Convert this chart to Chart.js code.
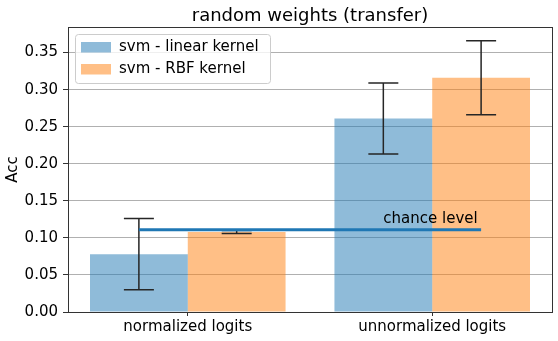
<!DOCTYPE html>
<html>
<head>
<meta charset="utf-8">
<script src="https://cdn.jsdelivr.net/npm/chart.js@4.4.1/dist/chart.umd.min.js"></script>
<style>
    body { margin: 0; background: #fff; }
    #wrap { width: 558px; height: 341px; }
</style>
</head>
<body>
<div id="wrap"><canvas id="acc_chart" width="558" height="341"></canvas></div>
<script>
// values

const categories = ['normalized logits', 'unnormalized logits'];
const linearAcc = [0.078, 0.261];
const linearErr = [0.048, 0.048];
const rbfAcc = [0.108, 0.316];
const rbfErr = [0.002, 0.050];
const chanceLevel = 0.111;
const chanceSpan = [-0.2, 1.2];
const chanceLabelPos = [0.8, 0.12];
const yTicks = [0, 0.05, 0.10, 0.15, 0.20, 0.25, 0.30, 0.35];
const titleText = 'random weights (transfer)';

Chart.defaults.font.family = 'DejaVu Sans';
Chart.defaults.font.size = 15;
Chart.defaults.color = '#000';

// error bars drawn right after each bar dataset, so the chance line stays on top
const errorBars = {
    id: 'errorBars',
    afterDatasetDraw(chart, args) {
        const ds = chart.data.datasets[args.index];
        if (!ds.errors) return;
        const y = chart.scales.y;
        const ctx = chart.ctx;
        ctx.save();
        ctx.strokeStyle = '#262626';
        ctx.lineWidth = 1.5;
        args.meta.data.forEach((bar, i) => {
            const v = ds.data[i].y;
            const e = ds.errors[i];
            const top = y.getPixelForValue(v + e);
            const bot = y.getPixelForValue(v - e);
            ctx.beginPath();
            ctx.moveTo(bar.x, top);
            ctx.lineTo(bar.x, bot);
            ctx.moveTo(bar.x - 15, top);
            ctx.lineTo(bar.x + 15, top);
            ctx.moveTo(bar.x - 15, bot);
            ctx.lineTo(bar.x + 15, bot);
            ctx.stroke();
        });
        ctx.restore();
    }
};

// title over the plot, frame, chance label and the boxed legend inside the plot
const decorations = {
    id: 'decorations',
    afterDraw(chart) {
        const ctx = chart.ctx;
        const a = chart.chartArea;
        const x = chart.scales.x;
        const y = chart.scales.y;
        ctx.save();

        ctx.fillStyle = '#000';
        ctx.font = '18px "DejaVu Sans"';
        ctx.textAlign = 'center';
        ctx.textBaseline = 'alphabetic';
        ctx.fillText(titleText, (a.left + a.right) / 2, a.top - 6);

        ctx.font = '15px "DejaVu Sans"';
        ctx.textAlign = 'left';
        ctx.fillText('chance level', x.getPixelForValue(chanceLabelPos[0]), y.getPixelForValue(chanceLabelPos[1]));

        ctx.strokeStyle = '#333';
        ctx.lineWidth = 1;
        ctx.strokeRect(Math.round(a.left) + 0.5, Math.round(a.top) + 0.5,
            Math.round(a.right - a.left), Math.round(a.bottom - a.top));

        const lx = a.left + 7, ly = a.top + 7, lw = 195, lh = 49;
        ctx.beginPath();
        ctx.roundRect(lx + 0.5, ly + 0.5, lw, lh, 3);
        ctx.fillStyle = 'rgba(255,255,255,0.8)';
        ctx.fill();
        ctx.strokeStyle = '#cccccc';
        ctx.stroke();

        const bars = chart.data.datasets.filter(d => d.errors);
        bars.forEach((d, i) => {
            const cy = ly + 13 + i * 22;
            ctx.fillStyle = d.backgroundColor;
            ctx.fillRect(lx + 6, cy - 5, 30, 10.5);
            ctx.fillStyle = '#000';
            ctx.textBaseline = 'middle';
            ctx.fillText(d.label, lx + 44, cy);
        });
        ctx.restore();
    }
};

const data = {
    datasets: [
        {
            type: 'line',
            label: 'chance',
            data: chanceSpan.map(v => ({ x: v, y: chanceLevel })),
            borderColor: '#1f77b4',
            borderWidth: 3,
            pointRadius: 0,
            order: 0
        },
        {
            label: 'svm - linear kernel',
            data: linearAcc.map((v, i) => ({ x: i, y: v })),
            errors: linearErr,
            backgroundColor: 'rgba(31,119,180,0.5)',
            borderWidth: 0,
            order: 1
        },
        {
            label: 'svm - RBF kernel',
            data: rbfAcc.map((v, i) => ({ x: i, y: v })),
            errors: rbfErr,
            backgroundColor: 'rgba(255,127,14,0.5)',
            borderWidth: 0,
            order: 2
        },
    ]
};

const config = {
    type: 'bar',
    data: data,
    plugins: [errorBars, decorations],
    options: {
        responsive: false,
        animation: false,
        categoryPercentage: 0.8,
        barPercentage: 1.0,
        layout: { padding: { left: 0, right: 6, top: 27, bottom: 0 } },
        plugins: {
            legend: { display: false },
            tooltip: { enabled: false },
            title: { display: false }
        },
        scales: {
            x: {
                type: 'linear',
                min: -0.49,
                max: 1.49,
                offset: false,
                afterBuildTicks: s => { s.ticks = categories.map((c, i) => ({ value: i })); },
                afterFit: s => { s.height = 29; },
                grid: { offset: false, drawOnChartArea: false, tickLength: 4, tickColor: '#333' },
                border: { display: false },
                ticks: { padding: 2, color: '#000', callback: v => categories[v] }
            },
            y: {
                min: 0,
                max: 0.3845,
                afterBuildTicks: s => { s.ticks = yTicks.map(v => ({ value: v })); },
                afterFit: s => { s.width = 68; },
                grid: { color: '#b0b0b0', lineWidth: 1, tickLength: 5, tickColor: '#333' },
                border: { display: false },
                title: {
                    display: true,
                    text: 'Acc',
                    font: { size: 15 },
                    color: '#000',
                    padding: { top: 4, bottom: 0 }
                },
                ticks: { padding: 5, color: '#000', callback: v => v.toFixed(2) }
            }
        }
    }
};

const accChart = new Chart(
    document.getElementById('acc_chart'),
    config
);
</script>
</body>
</html>
